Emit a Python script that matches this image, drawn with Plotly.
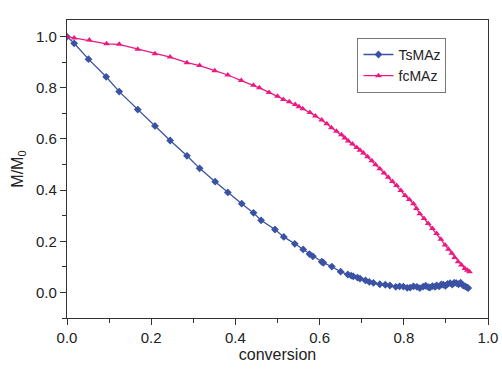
import plotly.graph_objects as go

ts_x = [0, 0.017, 0.051, 0.093, 0.124, 0.168, 0.209, 0.245, 0.285, 0.315, 0.352, 0.382, 0.415, 0.443, 0.461,
        0.494, 0.515, 0.541, 0.561, 0.576, 0.584, 0.605, 0.609, 0.629, 0.650, 0.667, 0.675, 0.680, 0.690, 0.696,
        0.709, 0.718, 0.728, 0.743, 0.756, 0.767, 0.781, 0.790, 0.799, 0.808, 0.815, 0.823, 0.831, 0.838, 0.846,
        0.852, 0.858, 0.862, 0.868, 0.874, 0.878, 0.884, 0.889, 0.894, 0.899, 0.904, 0.910, 0.915, 0.920, 0.925,
        0.930, 0.935, 0.941, 0.946, 0.950, 0.953]
ts_y = [1.0, 0.974, 0.912, 0.843, 0.785, 0.715, 0.651, 0.594, 0.534, 0.485, 0.433, 0.391, 0.347, 0.311, 0.282,
        0.246, 0.217, 0.190, 0.168, 0.150, 0.141, 0.120, 0.116, 0.101, 0.081, 0.070, 0.066, 0.063, 0.058, 0.054,
        0.047, 0.041, 0.037, 0.032, 0.030, 0.027, 0.022, 0.024, 0.023, 0.018, 0.019, 0.024, 0.022, 0.017, 0.023,
        0.026, 0.021, 0.019, 0.025, 0.022, 0.027, 0.024, 0.031, 0.030, 0.026, 0.033, 0.036, 0.031, 0.038, 0.036,
        0.032, 0.038, 0.027, 0.024, 0.020, 0.017]

fc_x = [0, 0.017, 0.053, 0.094, 0.124, 0.168, 0.209, 0.245, 0.285, 0.315, 0.351, 0.382, 0.414, 0.443, 0.457,
        0.480, 0.500, 0.514, 0.528, 0.542, 0.551, 0.560, 0.577, 0.590, 0.605, 0.617, 0.628, 0.640, 0.652, 0.660,
        0.668, 0.678, 0.688, 0.696, 0.704, 0.714, 0.724, 0.733, 0.743, 0.753, 0.763, 0.773, 0.783, 0.793, 0.803,
        0.813, 0.823, 0.830, 0.838, 0.848, 0.858, 0.868, 0.878, 0.888, 0.898, 0.906, 0.914, 0.921, 0.929, 0.937,
        0.945, 0.951, 0.956]
fc_y = [1.0, 0.995, 0.987, 0.972, 0.970, 0.951, 0.933, 0.920, 0.898, 0.887, 0.867, 0.850, 0.828, 0.810, 0.800,
        0.782, 0.767, 0.754, 0.745, 0.735, 0.726, 0.718, 0.703, 0.690, 0.674, 0.659, 0.644, 0.630, 0.616, 0.604,
        0.592, 0.580, 0.567, 0.556, 0.545, 0.530, 0.515, 0.499, 0.483, 0.467, 0.450, 0.434, 0.418, 0.398, 0.379,
        0.363, 0.347, 0.328, 0.308, 0.289, 0.269, 0.250, 0.230, 0.208, 0.185, 0.169, 0.153, 0.137, 0.120, 0.107,
        0.094, 0.087, 0.081]

BLUE = "#3a52a3"
PINK = "#ec1a80"
FONT = "Liberation Sans, Arial, sans-serif"

fig = go.Figure()
fig.add_trace(go.Scatter(x=ts_x, y=ts_y, mode="lines+markers", name="TsMAz",
                         line=dict(color=BLUE, width=1.3),
                         marker=dict(symbol="diamond", size=6, color=BLUE)))
fig.add_trace(go.Scatter(x=fc_x, y=fc_y, mode="lines+markers", name="fcMAz",
                         line=dict(color=PINK, width=1.3),
                         marker=dict(symbol="triangle-up", size=6, color=PINK)))

axis_common = dict(showline=True, linecolor="#333", linewidth=1.2, mirror=True, automargin=False,
                   ticks="outside", ticklen=6, tickcolor="#333", showgrid=False, zeroline=False,
                   tickfont=dict(family=FONT, size=15, color="#222"))

fig.update_xaxes(range=[0, 1.0], dtick=0.2, tickformat=".1f",
                 minor=dict(ticks="outside", ticklen=4, dtick=0.1, tickcolor="#333", showgrid=False),
                 title=dict(text="conversion", font=dict(family=FONT, size=16, color="#222"), standoff=2),
                 **axis_common)
fig.update_yaxes(range=[-0.1, 1.065], tick0=0, dtick=0.2, tickformat=".1f",
                 minor=dict(ticks="outside", ticklen=4, dtick=0.1, tickcolor="#333", showgrid=False),
                 title=dict(text="M/M<sub>0</sub>", font=dict(family=FONT, size=16, color="#222"), standoff=8),
                 **axis_common)

fig.update_layout(
    width=502, height=374,
    margin=dict(l=67, r=14, t=20, b=56),
    plot_bgcolor="white", paper_bgcolor="white",
    font=dict(family=FONT, color="#222"),
    legend=dict(x=0.69, y=0.94, xanchor="left", yanchor="top",
                bordercolor="#777", borderwidth=1, bgcolor="white",
                font=dict(family=FONT, size=14, color="#222"),
                itemwidth=30, tracegroupgap=0),
)

fig.write_html("out.html", config={"displayModeBar": False},
               post_script="document.body.style.margin='0';document.body.style.overflow='hidden';")
